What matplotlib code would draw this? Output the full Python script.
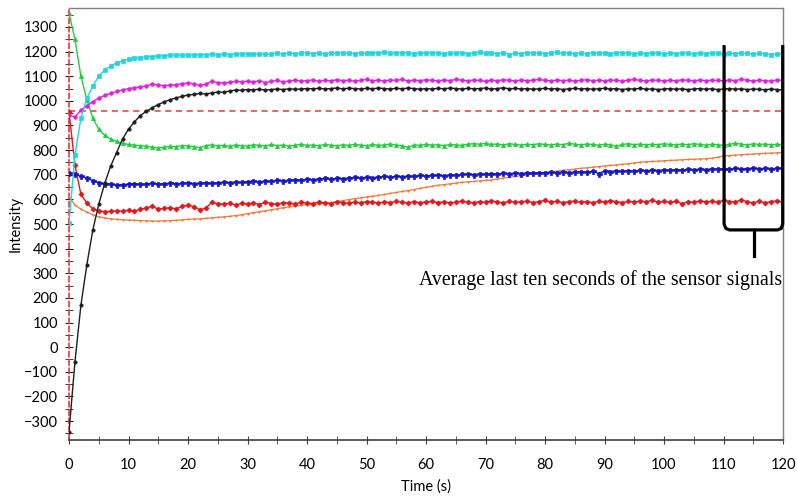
import matplotlib.pyplot as plt
import numpy as np

# Sensor signals, one sample per second (0..120 s)
cyan_vals = [504, 780, 930, 1010, 1060, 1100, 1125, 1142, 1154, 1162,
             1168, 1172, 1176, 1178, 1180, 1182, 1183, 1185, 1186, 1186,
             1187, 1185, 1188, 1187, 1189, 1186, 1190, 1188, 1191, 1189,
             1192, 1190, 1191, 1189, 1192, 1193, 1190, 1194, 1191, 1193,
             1195, 1192, 1194, 1191, 1195, 1193, 1196, 1194, 1192, 1195,
             1193, 1196, 1194, 1197, 1195, 1193, 1196, 1194, 1192, 1195,
             1193, 1196, 1194, 1191, 1195, 1193, 1196, 1192, 1194, 1197,
             1193, 1195, 1192, 1196, 1188, 1194, 1192, 1196, 1193, 1195,
             1192, 1194, 1197, 1193, 1195, 1191, 1194, 1192, 1196, 1193,
             1195, 1192, 1194, 1196, 1193, 1190, 1194, 1192, 1195, 1193,
             1191, 1194, 1192, 1195, 1193, 1190, 1194, 1192, 1195, 1193,
             1191, 1194, 1192, 1195, 1193, 1189, 1193, 1191, 1188, 1192,
             1190]

magenta_vals = [943, 934, 963, 979, 997, 1011, 1022, 1031, 1038, 1044,
                1050, 1053, 1057, 1060, 1069, 1063, 1062, 1064, 1066, 1070,
                1073, 1068, 1063, 1067, 1080, 1074, 1073, 1075, 1079, 1077,
                1080, 1076, 1082, 1074, 1079, 1083, 1077, 1081, 1084, 1080,
                1082, 1085, 1079, 1083, 1081, 1086, 1082, 1084, 1080, 1083,
                1087, 1082, 1084, 1081, 1085, 1083, 1087, 1081, 1084, 1082,
                1086, 1083, 1081, 1085, 1082, 1087, 1084, 1081, 1085, 1083,
                1080, 1084, 1082, 1086, 1083, 1081, 1085, 1082, 1084, 1087,
                1083, 1081, 1085, 1082, 1084, 1080, 1083, 1086, 1082, 1084,
                1081, 1085, 1083, 1080, 1084, 1087, 1083, 1081, 1085, 1083,
                1082, 1084, 1081, 1086, 1083, 1081, 1085, 1082, 1084, 1083,
                1081, 1085, 1082, 1088, 1083, 1081, 1084, 1082, 1080, 1085,
                1083]

black_vals = [-345, -60, 170, 335, 475, 580, 665, 735, 790, 845,
              885, 915, 940, 958, 972, 985, 996, 1005, 1012, 1018,
              1024, 1026, 1030, 1028, 1032, 1036, 1035, 1040, 1044, 1043,
              1046, 1045, 1047, 1044, 1046, 1048, 1046, 1049, 1047, 1048,
              1050, 1049, 1051, 1048, 1050, 1052, 1049, 1051, 1050, 1048,
              1051, 1049, 1052, 1050, 1048, 1051, 1049, 1052, 1050, 1047,
              1050, 1048, 1051, 1049, 1052, 1050, 1048, 1051, 1049, 1050,
              1052, 1048, 1050, 1053, 1049, 1051, 1048, 1050, 1047, 1049,
              1051, 1048, 1050, 1046, 1049, 1051, 1048, 1050, 1047, 1049,
              1051, 1048, 1050, 1046, 1049, 1048, 1051, 1047, 1049, 1046,
              1048, 1050, 1047, 1049, 1046, 1048, 1050, 1047, 1049, 1046,
              1048, 1050, 1047, 1049, 1046, 1048, 1047, 1045, 1048, 1046,
              1044]

green_vals = [1356, 1250, 1100, 1004, 930, 885, 860, 845, 835, 828,
              823, 820, 818, 816, 812, 808, 812, 815, 814, 818,
              817, 814, 810, 818, 822, 817, 819, 815, 821, 818,
              816, 822, 819, 817, 823, 818, 821, 816, 820, 824,
              819, 821, 818, 823, 820, 817, 822, 819, 824, 820,
              818, 823, 819, 821, 825, 820, 818, 811, 821, 819,
              824, 820, 822, 818, 823, 821, 819, 824, 826, 824,
              827, 823, 825, 821, 826, 823, 820, 824, 822, 826,
              823, 821, 825, 822, 828, 824, 821, 825, 823, 820,
              824, 822, 815, 823, 826, 822, 825, 821, 824, 822,
              826, 823, 821, 825, 822, 826, 823, 820, 824, 822,
              819, 823, 828, 824, 821, 826, 823, 825, 822, 824,
              822]

blue_vals = [708, 703, 693, 686, 676, 668, 664, 662, 658, 660,
             662, 664, 661, 663, 665, 662, 664, 666, 663, 665,
             667, 664, 666, 668, 665, 667, 670, 668, 671, 669,
             672, 674, 671, 675, 673, 677, 675, 678, 680, 678,
             682, 680, 683, 685, 682, 686, 684, 687, 689, 686,
             690, 688, 691, 693, 690, 694, 692, 695, 693, 697,
             695, 697, 699, 696, 700, 698, 701, 703, 700, 704,
             702, 705, 703, 706, 704, 707, 705, 708, 706, 709,
             708, 710, 708, 712, 709, 711, 713, 710, 714, 705,
             715, 713, 716, 714, 717, 715, 718, 716, 719, 717,
             720, 718, 721, 719, 722, 720, 723, 721, 724, 722,
             725, 722, 726, 723, 725, 727, 724, 726, 723, 727,
             726]

red_vals = [955, 740, 620, 585, 562, 553, 550, 551, 553, 552,
            556, 552, 560, 565, 572, 560, 563, 566, 561, 572,
            577, 570, 558, 564, 588, 582, 580, 585, 576, 584,
            581, 586, 579, 588, 583, 580, 587, 584, 582, 588,
            585, 583, 589, 586, 582, 590, 587, 584, 589, 586,
            591, 588, 585, 590, 587, 592, 588, 585, 591, 586,
            589, 592, 587, 590, 585, 589, 593, 588, 586, 591,
            588, 594, 589, 586, 592, 588, 590, 593, 587, 591,
            596, 589, 592, 587, 590, 594, 588, 591, 586, 592,
            589, 595, 590, 587, 592, 589, 593, 590, 596, 589,
            592, 588, 593, 582, 591, 588, 594, 590, 592, 589,
            596, 591, 589, 598, 590, 586, 593, 585, 591, 594,
            589]

orange_vals = [611, 577, 560, 548, 538, 530, 525, 521, 519, 517,
               516, 515, 514, 513, 512, 512, 513, 514, 515, 517,
               519, 520, 521, 523, 525, 527, 529, 531, 534, 538,
               542, 546, 550, 554, 558, 562, 566, 570, 573, 576,
               578, 580, 582, 584, 587, 591, 595, 599, 603, 606,
               610, 613, 616, 620, 624, 628, 632, 636, 640, 645,
               649, 653, 657, 660, 663, 666, 669, 671, 673, 675,
               677, 679, 683, 686, 690, 693, 696, 699, 702, 706,
               709, 712, 715, 718, 720, 723, 726, 728, 731, 733,
               736, 738, 740, 742, 745, 748, 751, 753, 754, 755,
               757, 758, 759, 761, 762, 763, 764, 765, 767, 771,
               776, 778, 780, 781, 783, 784, 786, 787, 788, 789,
               790]

reference_level = 960

series = [
    (orange_vals, '#f07a3a', '.', 2.0, 0.9),
    (red_vals, '#e3161b', 'D', 2.6, 1.0),
    (blue_vals, '#1515c8', 'P', 3.6, 1.0),
    (green_vals, '#1ecf3a', '^', 3.0, 1.0),
    (black_vals, '#1e1e1e', 'o', 2.4, 1.0),
    (magenta_vals, '#e21ee2', 'o', 2.6, 1.0),
    (cyan_vals, '#1ed6e0', 's', 3.0, 1.0),
]

fig = plt.figure(figsize=(7.97, 4.97), dpi=100)
ax = fig.add_axes([69 / 797, 57 / 497, 714 / 797, 432 / 497])

ax.axhline(reference_level, color='#e03a3a', lw=1.1, ls=(0, (4, 3)), zorder=2)

for vals, col, mk, ms, lw in series:
    t = np.arange(len(vals))
    ax.plot(t, vals, color=col, marker=mk, markersize=ms, lw=lw,
            markeredgewidth=0.5, zorder=3)

ax.set_xlim(0, 120)
ax.set_ylim(-377, 1377)

ax.set_xticks(np.arange(0, 121, 10))
ax.set_xticks(np.arange(0, 121, 5), minor=True)
ax.set_yticks(np.arange(-300, 1301, 100))
ax.set_yticks(np.arange(-350, 1351, 50), minor=True)

font = ['Lato', 'DejaVu Sans']
for lab in ax.get_xticklabels() + ax.get_yticklabels():
    lab.set_family(font)
    lab.set_fontsize(10.5)

ax.tick_params(axis='x', which='both', direction='inout', length=6,
               color='#404040', pad=10)
ax.tick_params(axis='y', which='both', direction='inout', length=6,
               color='#202020', pad=5)

for side in ['top', 'right']:
    ax.spines[side].set_color('#808080')
    ax.spines[side].set_linewidth(1.0)
ax.spines['bottom'].set_color('#404040')
ax.spines['bottom'].set_linewidth(1.2)
ax.spines['left'].set_color('#e03a3a')
ax.spines['left'].set_linestyle((0, (3, 2)))
ax.spines['left'].set_linewidth(1.2)

ax.set_xlabel('Time (s)', family=font, fontsize=10.5, labelpad=5)
ax.set_ylabel('Intensity', family=font, fontsize=10.5, labelpad=1)

# Bracket marking the last ten seconds
bx = [110.1, 110.1, 110.4, 111.0, 119.1, 119.7, 119.95, 119.95]
by = [1220, 500, 482, 476, 476, 482, 500, 1220]
ax.plot(bx, by, color='black', lw=2.3, clip_on=False, zorder=5,
        solid_joinstyle='round')
ax.plot([115.1, 115.1], [476, 372], color='black', lw=2.3, zorder=5)

ax.text(89.3, 273, 'Average last ten seconds of the sensor signals',
        family=['Liberation Serif'], fontsize=14.3, ha='center', va='center')

fig.savefig('out.png', dpi=100)
